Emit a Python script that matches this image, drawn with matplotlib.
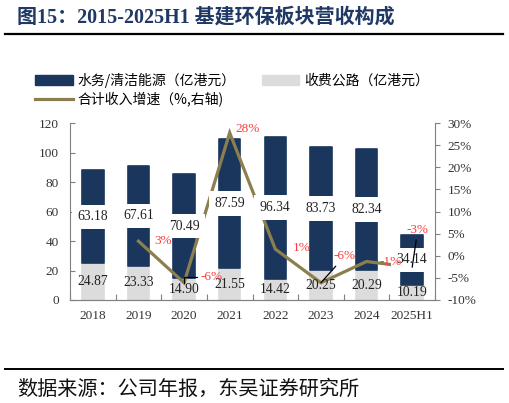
import matplotlib
matplotlib.use('Agg')
import matplotlib.pyplot as plt
from matplotlib.lines import Line2D
from matplotlib.patches import Patch
import numpy as np

# ---------------- data ----------------
categories = ['2018', '2019', '2020', '2021', '2022', '2023', '2024', '2025H1']
water = [63.18, 67.61, 70.49, 87.59, 96.34, 83.73, 82.34, 34.14]   # 水务/清洁能源（亿港元）
toll = [24.87, 23.33, 14.90, 21.55, 14.42, 20.25, 20.29, 10.19]    # 收费公路（亿港元）
growth_cats = ['2019', '2020', '2021', '2022', '2023', '2024', '2025H1']
growth = [3.3, -6.1, 27.8, 1.5, -6.1, -1.3, -2.6]                   # 合计收入增速（%）
growth_labels = ['3%', '-6%', '28%', '1%', '-6%', '-1%', '-3%']
left_ticks = [0, 20, 40, 60, 80, 100, 120]
right_ticks = [-10, -5, 0, 5, 10, 15, 20, 25, 30]

# ---------------- style ----------------
NAVY = '#1B365D'
GRAY = '#DCDCDC'
GOLD = '#8C7F4F'
RED = '#FF3B3B'
TITLE_C = '#1F3864'
SPINE = '#808080'
SERIF = ['Liberation Serif', 'Noto Sans CJK SC']
CJK = ['Noto Sans CJK SC', 'Liberation Serif']
# label offsets (points) for growth labels, and which get leader lines
g_offsets = [(18, 0), (20, 4), (13, 3), (19, 1), (17, 19), (17, 0), (4, 27)]
g_leader = [None, 'angle,angleA=0,angleB=90,rad=0', None, None, 'arc3', None, 'arc3']

W, H = 509, 403
fig = plt.figure(figsize=(W / 100, H / 100), dpi=100)
ax = fig.add_axes([70 / W, 1 - 300 / H, (435 - 70) / W, (300 - 123) / H])
ax2 = ax.twinx()

x = np.arange(len(categories))
bw = 0.47
ax.bar(x, toll, bw, color=GRAY, edgecolor=GRAY, linewidth=1.2, joinstyle='round', zorder=2)
ax.bar(x, water, bw, bottom=toll, color=NAVY, edgecolor=NAVY, linewidth=1.2,
       joinstyle='round', zorder=2)

gx = [categories.index(c) for c in growth_cats]
ax2.plot(gx, growth, color=GOLD, lw=2.3, zorder=3, solid_joinstyle='miter')

# bar data labels (on ax2 so they sit above the line)
for i in range(len(categories)):
    ax2.text(x[i], toll[i] + water[i] / 2, f'{water[i]:.2f}', transform=ax.transData,
             ha='center', va='center', fontsize=9.8, family=SERIF, color='#222222', zorder=5,
             bbox=dict(boxstyle='square,pad=0.42', fc='white', ec='none'))
    ax2.text(x[i], toll[i] / 2, f'{toll[i]:.2f}', transform=ax.transData,
             ha='center', va='center', fontsize=9.8, family=SERIF, color='#222222', zorder=5)

# growth labels
for xi, gv, lab, off, ld in zip(gx, growth, growth_labels, g_offsets, g_leader):
    kw = {}
    if ld is not None:
        kw['arrowprops'] = dict(arrowstyle='-', color='black', lw=0.9, shrinkA=1, shrinkB=0,
                                connectionstyle=ld)
    ax2.annotate(lab, xy=(xi, gv), xytext=off, textcoords='offset points', ha='center',
                 va='center', fontsize=9.5, family=SERIF, color=RED, zorder=6, **kw)

# axes
ax.set_xlim(-0.5, len(categories) - 0.5)
ax.set_ylim(0, 120)
ax2.set_ylim(-10, 30)
ax.set_xticks(x)
ax.set_xticklabels(categories)
ax.set_xticks(np.arange(-0.5, len(categories), 1), minor=True)
ax.tick_params(axis='x', which='major', length=0, pad=7.5)
ax.tick_params(axis='x', which='minor', direction='in', length=4, color=SPINE, width=0.8)
ax.set_yticks(left_ticks)
ax.tick_params(axis='y', direction='in', length=3.5, color=SPINE, width=0.8, pad=8)
ax2.set_yticks(right_ticks)
ax2.set_yticklabels([f'{t}%' for t in right_ticks])
ax2.tick_params(axis='y', direction='out', length=3.5, color=SPINE, width=0.8, pad=5.5)
for a in (ax, ax2):
    for lab in a.get_xticklabels() + a.get_yticklabels():
        lab.set_fontfamily(SERIF)
        lab.set_fontsize(9.5)
        lab.set_color('#333333')
    a.spines['top'].set_visible(False)
    for s in a.spines.values():
        s.set_color(SPINE)
        s.set_linewidth(0.8)
ax.spines['right'].set_visible(False)
ax2.spines['left'].set_visible(False)

# legend
handles = [Patch(facecolor=NAVY, edgecolor=NAVY),
           Line2D([], [], color=GOLD, lw=2.3),
           Patch(facecolor=GRAY, edgecolor=GRAY)]
labels = ['水务/清洁能源（亿港元）', '合计收入增速（%,右轴)', '收费公路（亿港元）']
fig.legend(handles, labels, loc='upper left', bbox_to_anchor=(35 / W, 1 - 73 / H), ncol=2,
           frameon=False, borderpad=0, borderaxespad=0, handlelength=2.7, handleheight=0.7,
           handletextpad=0.35, columnspacing=1.9, labelspacing=0.3,
           prop={'family': CJK, 'size': 10})

# title, rules, footer
fig.text(17 / W, 1 - 18 / H, '图15：2015-2025H1 基建环保板块营收构成', fontsize=14.4,
         fontweight='bold', color=TITLE_C, family=SERIF, va='center', ha='left')
fig.add_artist(Line2D([5 / W, 503 / W], [1 - 34 / H] * 2, transform=fig.transFigure,
                      color='black', lw=1.6))
fig.add_artist(Line2D([5 / W, 503 / W], [1 - 369 / H] * 2, transform=fig.transFigure,
                      color='black', lw=1.4))
fig.text(17 / W, 1 - 389 / H, '数据来源：公司年报，东吴证券研究所', fontsize=14.5,
         color='#111111', family=CJK, va='center', ha='left')

fig.savefig('out.png', dpi=100)
